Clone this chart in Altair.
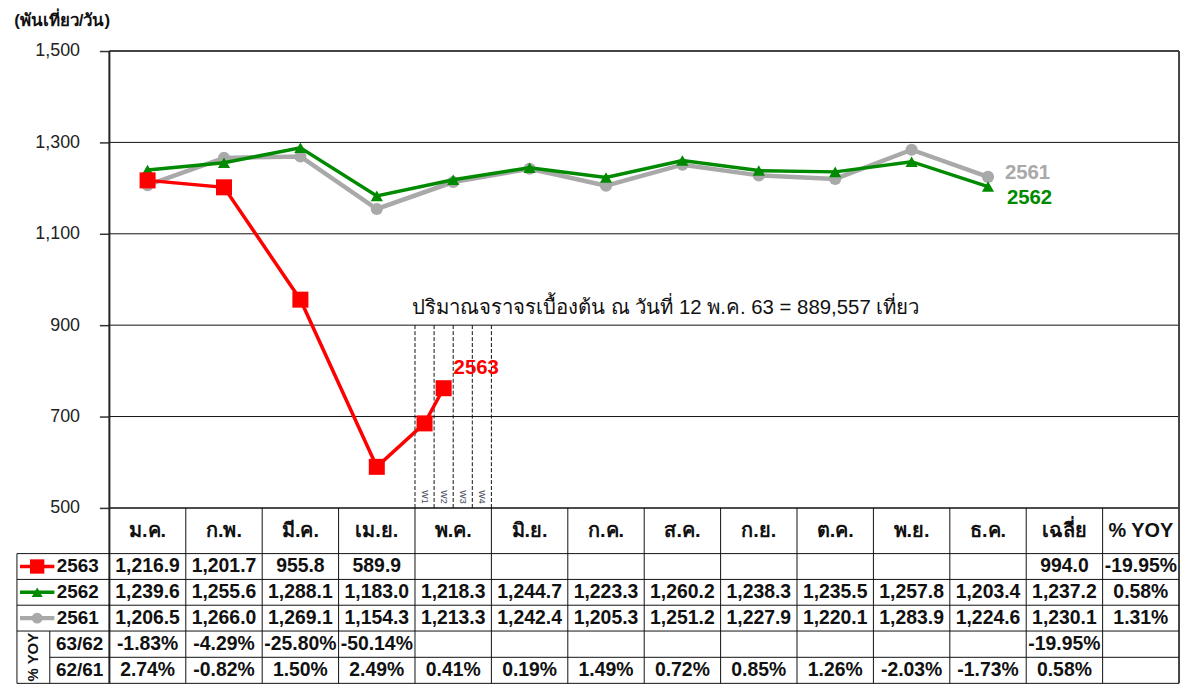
import altair as alt
import pandas as pd

# ---------------- data ----------------
months = ["ม.ค.", "ก.พ.", "มี.ค.", "เม.ย.", "พ.ค.", "มิ.ย.", "ก.ค.", "ส.ค.", "ก.ย.", "ต.ค.", "พ.ย.", "ธ.ค."]
extra_cols = ["เฉลี่ย", "% YOY"]
weeks = ["W1", "W2", "W3", "W4"]
series_names = ["2563", "2562", "2561"]
v2563 = [1216.9, 1201.7, 955.8, 589.9]
v2563_weeks = [685, 762]
v2562 = [1239.6, 1255.6, 1288.1, 1183.0, 1218.3, 1244.7, 1223.3, 1260.2, 1238.3, 1235.5, 1257.8, 1203.4]
v2561 = [1206.5, 1266.0, 1269.1, 1154.3, 1213.3, 1242.4, 1205.3, 1251.2, 1227.9, 1220.1, 1283.9, 1224.6]
avg_vals = [994.0, 1237.2, 1230.1]
yoy_vals = ["-19.95%", "0.58%", "1.31%"]
yoy_labels = ["63/62", "62/61"]
pct_6362 = ["-1.83%", "-4.29%", "-25.80%", "-50.14%"]
pct_6362_avg = "-19.95%"
pct_6261 = ["2.74%", "-0.82%", "1.50%", "2.49%", "0.41%", "0.19%", "1.49%", "0.72%", "0.85%", "1.26%", "-2.03%", "-1.73%"]
pct_6261_avg = "0.58%"
y_ticks = [500, 700, 900, 1100, 1300, 1500]
unit_title = "(พันเที่ยว/วัน)"
note_text = "ปริมาณจราจรเบื้องต้น ณ วันที่ 12 พ.ค. 63 = 889,557 เที่ยว"

# ---------------- layout / style ----------------
FONT = "Liberation Sans"
RED, GREEN, GRAY = "#ff0000", "#008a00", "#a9a9a9"
NCOL = 14
LEFT = -1.21          # left edge of label column (column units)
SPLIT = -0.78         # edge of the rotated "% YOY" cell
TABLE_TOP = 500
row_heights = [100, 56.5, 56.5, 56.5, 57.5, 57]
edges = [TABLE_TOP]
for h in row_heights:
    edges.append(edges[-1] - h)
centers = [(edges[i] + edges[i + 1]) / 2 for i in range(len(row_heights))]
BOTTOM = edges[-1]

xs = alt.Scale(domain=[LEFT, NCOL], nice=False, zero=False)
ys = alt.Scale(domain=[106.5, 1500], nice=False, zero=False)

Y_AXIS = alt.Axis(
    values=y_ticks, format=",.0f", grid=False, domain=False,
    tickSize=10, tickColor="#333", tickWidth=1.5, offset=-93,
    labelPadding=20, labelFontSize=18, labelColor="#222", labelFont=FONT,
    title=unit_title, titleAngle=0, titleX=-48, titleY=-31,
    titleAlign="center", titleBaseline="middle", titleFont=FONT,
    titleFontSize=17, titleFontWeight="bold", titleColor="#111",
)


def X(f="x"):
    return alt.X(f"{f}:Q", scale=xs, axis=None)


def Y(f="y"):
    return alt.Y(f"{f}:Q", scale=ys, axis=Y_AXIS)


# ---------------- frame / grid / table rules ----------------
segs = []
for t in y_ticks[1:-1]:
    segs.append(dict(x=0, x2=NCOL, y=t, y2=t, w=1, c="#111"))
segs.append(dict(x=0, x2=NCOL, y=y_ticks[-1], y2=y_ticks[-1], w=2, c="#444"))
segs.append(dict(x=0, x2=NCOL, y=TABLE_TOP, y2=TABLE_TOP, w=1.5, c="#111"))
segs.append(dict(x=NCOL, x2=NCOL, y=y_ticks[-1], y2=BOTTOM, w=2, c="#444"))
segs.append(dict(x=0, x2=0, y=y_ticks[-1], y2=BOTTOM, w=2, c="#222"))
for i, e in enumerate(edges[1:], start=1):
    left = SPLIT if i == 5 else LEFT
    segs.append(dict(x=left, x2=NCOL, y=e, y2=e, w=1, c="#111"))
for c in range(1, NCOL):
    segs.append(dict(x=c, x2=c, y=TABLE_TOP, y2=BOTTOM, w=1, c="#111"))
segs.append(dict(x=LEFT, x2=LEFT, y=edges[1], y2=BOTTOM, w=1, c="#111"))
segs.append(dict(x=SPLIT, x2=SPLIT, y=edges[4], y2=BOTTOM, w=1, c="#111"))
seg_df = pd.DataFrame(segs)

rules = alt.Chart(seg_df).mark_rule().encode(
    x=X("x"), x2="x2:Q", y=Y("y"), y2="y2:Q",
    strokeWidth=alt.StrokeWidth("w:Q", scale=None),
    color=alt.Color("c:N", scale=None),
)

# weekly dashed separators in May
wk_edges = pd.DataFrame({"x": [4 + k / 4 for k in range(5)], "y": [900] * 5, "y2": [TABLE_TOP] * 5})
dashes = alt.Chart(wk_edges).mark_rule(color="#111", strokeWidth=1, strokeDash=[4, 2]).encode(
    x=X("x"), y=Y("y"), y2="y2:Q")
wk_df = pd.DataFrame({"x": [4 + (k + 0.5) / 4 for k in range(4)], "y": [TABLE_TOP] * 4, "t": weeks})
wk_text = alt.Chart(wk_df).mark_text(angle=90, fontSize=9, font=FONT, color="#445", dy=0, dx=-11,
                                      baseline="middle", align="center").encode(
    x=X("x"), y=Y("y"), text="t:N")

# ---------------- series ----------------
mx = [i + 0.5 for i in range(12)]
df61 = pd.DataFrame({"x": mx, "y": v2561})
df62 = pd.DataFrame({"x": mx, "y": v2562})
df63 = pd.DataFrame({"x": mx[:4] + [4 + (k + 0.5) / 4 for k in range(len(v2563_weeks))],
                     "y": v2563 + v2563_weeks})

styles = {
    "2561": dict(color=GRAY, width=4.5, shape="circle", size=150),
    "2562": dict(color=GREEN, width=3.5, shape="triangle-up", size=150),
    "2563": dict(color=RED, width=3.5, shape="square", size=260),
}


def series(df, name):
    s = styles[name]
    ln = alt.Chart(df).mark_line(color=s["color"], strokeWidth=s["width"]).encode(x=X("x"), y=Y("y"))
    pt = alt.Chart(df).mark_point(shape=s["shape"], size=s["size"], filled=True, opacity=1,
                                  color=s["color"]).encode(x=X("x"), y=Y("y"))
    return ln + pt


# series end labels
lab_specs = [
    (df61.iloc[[-1]], "2561", GRAY, 17, -4),
    (df62.iloc[[-1]], "2562", GREEN, 19, 12),
    (df63.iloc[[-1]], "2563", RED, 10, -20),
]
labels = []
for d, name, col, dx, dy in lab_specs:
    labels.append(alt.Chart(d.assign(t=name)).mark_text(
        align="left", baseline="middle", dx=dx, dy=dy, fontSize=20.5, fontWeight="bold",
        font=FONT, color=col).encode(x=X("x"), y=Y("y"), text="t:N"))

note = alt.Chart(pd.DataFrame({"x": [4], "y": [900], "t": [note_text]})).mark_text(
    align="left", baseline="middle", dx=-3, dy=-17, fontSize=20.5, font=FONT, color="#111").encode(
    x=X("x"), y=Y("y"), text="t:N")

# ---------------- table ----------------
def fmt(v):
    return f"{v:,.1f}"


heads = []
for c, h in enumerate(months + extra_cols):
    heads.append(dict(x=c + 0.5, y=centers[0], t=h))
head_text = alt.Chart(pd.DataFrame(heads)).mark_text(fontSize=20, font=FONT, fontWeight="bold", color="#111",
                                                     baseline="middle", align="center").encode(
    x=X("x"), y=Y("y"), text="t:N")

cells = []
rows_vals = [
    [fmt(v) for v in v2563] + [""] * (12 - len(v2563)) + [fmt(avg_vals[0]), yoy_vals[0]],
    [fmt(v) for v in v2562] + [fmt(avg_vals[1]), yoy_vals[1]],
    [fmt(v) for v in v2561] + [fmt(avg_vals[2]), yoy_vals[2]],
    pct_6362 + [""] * (12 - len(pct_6362)) + [pct_6362_avg, ""],
    pct_6261 + [pct_6261_avg, ""],
]
for r, vals in enumerate(rows_vals, start=1):
    for c, t in enumerate(vals):
        if t:
            cells.append(dict(x=c + 0.5, y=centers[r], t=t))
cell_df = pd.DataFrame(cells)
cell_text = alt.Chart(cell_df).mark_text(fontSize=19.5, font=FONT, fontWeight="bold", color="#111",
                                         baseline="middle", align="center").encode(
    x=X("x"), y=Y("y"), text="t:N")

# row labels
rl = pd.DataFrame({"x": [-0.69] * 3, "y": centers[1:4], "t": series_names})
row_lab = alt.Chart(rl).mark_text(align="left", baseline="middle", fontSize=19, font=FONT,
                                  fontWeight="bold", color="#111").encode(x=X("x"), y=Y("y"), text="t:N")
yl = pd.DataFrame({"x": [(SPLIT + 0) / 2] * 2, "y": centers[4:6], "t": yoy_labels})
yoy_lab = alt.Chart(yl).mark_text(align="center", baseline="middle", fontSize=19, font=FONT,
                                  fontWeight="bold", color="#111").encode(x=X("x"), y=Y("y"), text="t:N")
yv = pd.DataFrame({"x": [(LEFT + SPLIT) / 2], "y": [edges[4] / 2 + BOTTOM / 2], "t": ["% YOY"]})
yoy_vert = alt.Chart(yv).mark_text(angle=270, align="center", baseline="middle", fontSize=15, font=FONT,
                                   fontWeight="bold", color="#111").encode(x=X("x"), y=Y("y"), text="t:N")

# legend keys in table
legend_layers = []
for r, name in [(1, "2563"), (2, "2562"), (3, "2561")]:
    s = styles[name]
    kd = pd.DataFrame({"x": [-1.17, -0.72], "y": [centers[r]] * 2})
    kp = pd.DataFrame({"x": [-0.945], "y": [centers[r]]})
    legend_layers.append(alt.Chart(kd).mark_line(color=s["color"], strokeWidth=s["width"]).encode(
        x=X("x"), y=Y("y")))
    legend_layers.append(alt.Chart(kp).mark_point(shape=s["shape"], size=s["size"] * 0.8, filled=True,
                                                  opacity=1, color=s["color"]).encode(x=X("x"), y=Y("y")))

chart = alt.layer(
    rules, dashes, wk_text,
    series(df61, "2561"), series(df62, "2562"), series(df63, "2563"),
    *labels, note, head_text, cell_text, row_lab, yoy_lab, yoy_vert, *legend_layers,
).properties(
    width=1170, height=641,
    autosize=alt.AutoSizeParams(type="none"),
    padding={"left": 9, "top": 41, "right": 3, "bottom": 0},
    background="white",
).configure_view(strokeWidth=0)

chart.save("out.html", embed_options={"renderer": "svg", "actions": False})
